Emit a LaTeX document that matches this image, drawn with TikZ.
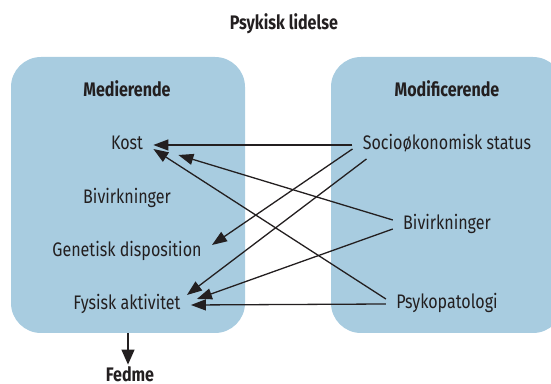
\documentclass[tikz,border=0pt]{standalone}
\usepackage{fontspec}
\setmainfont{Fira Sans}[FakeStretch=0.82]
\usepackage{xcolor}
\usepackage{tikz}
\usetikzlibrary{positioning, arrows.meta}
\definecolor{boxblue}{RGB}{168,204,224}
\definecolor{ink}{RGB}{35,31,32}

\begin{document}
\begin{tikzpicture}[x=0.5pt, y=-0.5pt,
  box/.style={fill=boxblue, rounded corners=15pt, minimum width=117pt, minimum height=138pt, inner sep=0pt},
  lbl/.style={text=ink, font=\fontsize{9.8}{12}\selectfont, inner xsep=5pt, inner ysep=2pt, text height=7pt, text depth=2pt},
  head/.style={lbl, font=\fontsize{9.8}{12}\selectfont\bfseries},
  pil/.style={draw=ink, line width=0.65pt, -{Triangle[length=7.5pt,width=5.5pt]}}]
\useasboundingbox (0,0) rectangle (551,384);
% the two groups
\node[box] (medbox) at (128,195) {};
\node[box, minimum width=116pt] (modbox) at (447,195) {};
\node[head] (title) at (284,25) {Psykisk lidelse};
\node[head] (medhead) at (127,92) {Medierende};
\node[head] (modhead) at (447,92) {Modificerende};
% mediating factors
\node[lbl] (kost) at (127,145) {Kost};
\node[lbl] (bivL) at (127,199) {Bivirkninger};
\node[lbl] (genetisk) at (127,252) {Genetisk disposition};
\node[lbl] (fysisk) at (127,305) {Fysisk aktivitet};
% modifying factors
\node[lbl] (socio) at (447,145) {Socioøkonomisk status};
\node[lbl] (bivR) at (447,225) {Bivirkninger};
\node[lbl] (psyk) at (447,304) {Psykopatologi};
\node[head, inner ysep=1pt, text depth=0pt] (fedme) at (130,374) {Fedme};
% effects
\draw[pil] (socio.west) -- (kost.east);
\draw[pil] ([yshift=2.5pt]psyk.west) -- ([yshift=-2pt]kost.east);
\draw[pil] ([yshift=2.5pt]bivR.west) -- ([xshift=12.5pt,yshift=-5pt]kost.east);
\draw[pil] ([yshift=-2pt]socio.west) -- ([yshift=3.5pt]genetisk.east);
\draw[pil] ([xshift=7pt,yshift=-7pt]socio.west) -- ([xshift=-2pt,yshift=5pt]fysisk.east);
\draw[pil] ([yshift=-2pt]bivR.west) -- ([xshift=3pt,yshift=3pt]fysisk.east);
\draw[pil] (psyk.west) -- (fysisk.east);
\draw[pil, -{Triangle[length=7.5pt,width=6.5pt]}] (medbox.south) -- (medbox.south |- fedme.north);
\end{tikzpicture}
\end{document}
